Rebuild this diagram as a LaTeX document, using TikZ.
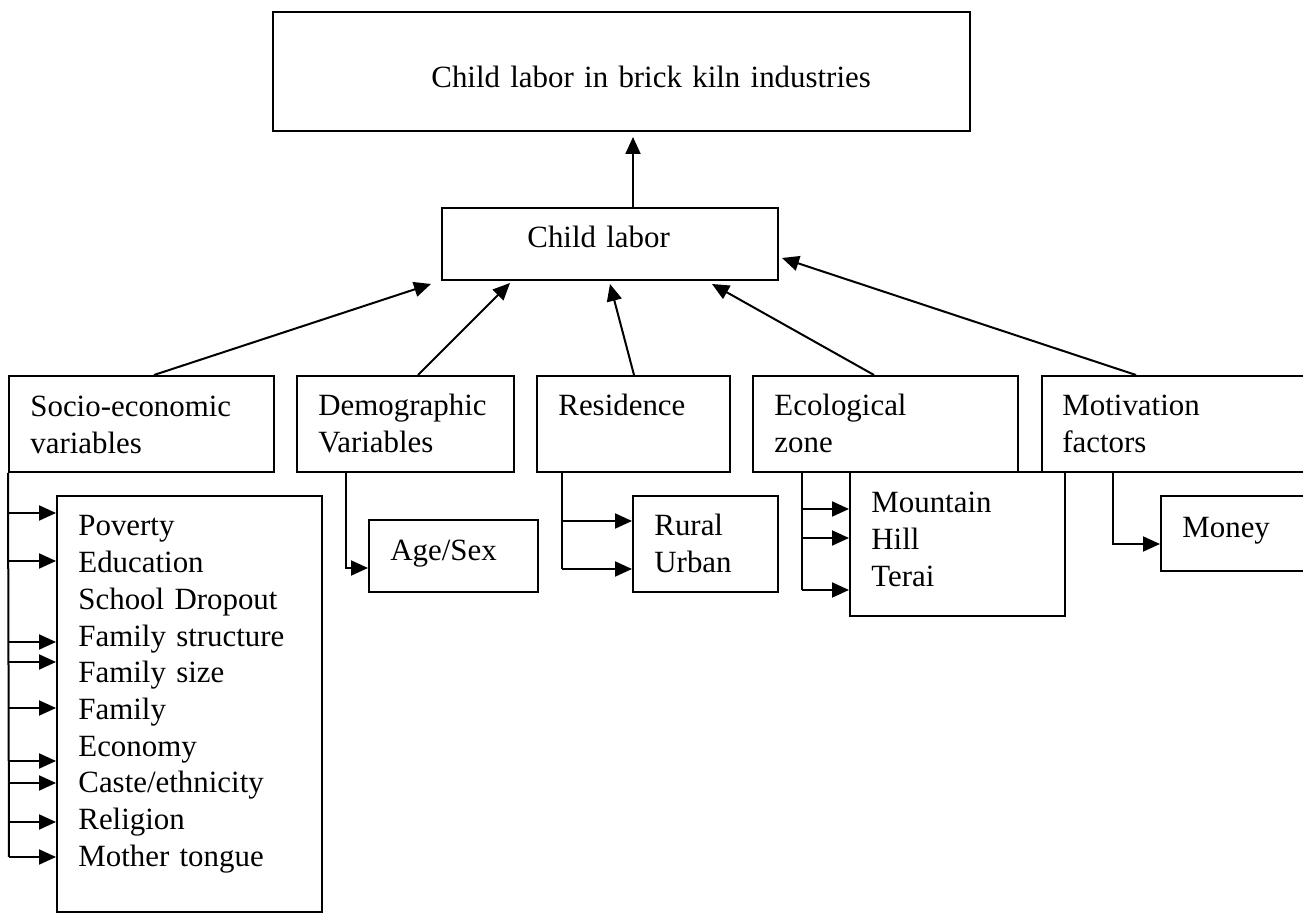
\documentclass[tikz,border=0pt]{standalone}
\usepackage{fontspec}
\setmainfont{Liberation Serif}
\usetikzlibrary{arrows.meta,calc,fit}
\begin{document}
\begin{tikzpicture}[x=0.5pt,y=-0.5pt,
  box/.style={draw, line width=1pt, inner sep=0pt},
  txt/.style={inner sep=0pt, anchor=base west, text width=330pt, align=left,
    font=\fontsize{15.45pt}{18.35pt}\selectfont},
  ln/.style={line width=1pt},
  arr/.style={ln, -{Triangle[length=8.5pt,width=7.5pt]}}]
\useasboundingbox (0,0) rectangle (1303,913);

% boxes
\node[box, fit={(273,12) (970,131)}] (top) {};
\node[box, fit={(442,208) (778,280)}] (cl) {};
\node[box, fit={(9,376) (274,472)}] (soc) {};
\node[box, fit={(297,376) (514,472)}] (dem) {};
\node[box, fit={(537,376) (730,472)}] (res) {};
\node[box, fit={(753,376) (1018,472)}] (eco) {};
\node[box, fit={(1042,376) (1340,472)}] (mot) {};
\node[box, fit={(57,496) (322,912)}] (list) {};
\node[box, fit={(369,520) (538,592)}] (age) {};
\node[box, fit={(633,496) (778,592)}] (ru) {};
\node[box, fit={(850,472) (1065,616)}] (zone) {};
\node[box, fit={(1161,496) (1340,571)}] (money) {};

% texts
\node[txt] (ttop) at (431,88) {Child labor in brick kiln industries};
\node[txt] (tcl) at (527,248) {Child labor};
\node[txt] (tsoc) at (30,417) {Socio-economic\\variables};
\node[txt] (tdem) at (318,416) {Demographic\\Variables};
\node[txt] (tres) at (558,416) {Residence};
\node[txt] (teco) at (774,416) {Ecological\\zone};
\node[txt] (tmot) at (1062,416) {Motivation\\factors};
\node[txt] (tlist) at (78,536) {Poverty\\Education\\School Dropout\\Family structure\\Family size\\Family\\Economy\\Caste/ethnicity\\Religion\\Mother tongue};
\node[txt] (tage) at (390,561) {Age/Sex};
\node[txt] (tru) at (654,536) {Rural\\Urban};
\node[txt] (tzone) at (871,513) {Mountain\\Hill\\Terai};
\node[txt] (tmoney) at (1182,538) {Money};

% upward arrows
\coordinate (ax) at (633,0);
\draw[arr, shorten >=2.5pt] (cl.north -| ax) -- (top.south -| ax);
\draw[arr] ($(soc.north)+(12.5,0)$) -- ($(cl.south west)+(-10,3)$);
\draw[arr] ($(dem.north)+(12.5,0)$) -- ($(cl.south)+(-100,2)$);
\draw[arr] ($(res.north)+(0.5,0)$) -- ($(cl.south)+(0,3)$);
\draw[arr] ($(eco.north)+(-11.5,0)$) -- ($(cl.south)+(102,3)$);
\draw[arr] ($(mot.north west)+(95,0)$) -- ($(cl.east)+(3,14)$);

% socio-economic list
\draw[ln] (soc.south west) -- (9,857);
\foreach \y in {513,561,642,662,708,761,783,822,857} {
  \coordinate (s\y) at (9,\y);
  \draw[arr] (s\y) -- (s\y -| list.west);
}

% demographic
\coordinate (d1) at (346,568);
\draw[arr] (dem.south -| d1) -- (d1) -- (age.west |- d1);

% residence
\coordinate (r1) at (562,521);
\coordinate (r2) at (562,569);
\draw[ln] (res.south -| r1) -- (r2);
\draw[arr] (r1) -- (ru.west |- r1);
\draw[arr] (r2) -- (ru.west |- r2);

% ecological
\coordinate (e1) at (802,509);
\coordinate (e2) at (802,538);
\coordinate (e3) at (802,590);
\draw[ln] (eco.south -| e1) -- (e3);
\draw[arr] (e1) -- (zone.west |- e1);
\draw[arr] (e2) -- (zone.west |- e2);
\draw[arr] (e3) -- (zone.west |- e3);

% motivation
\coordinate (m1) at (1113,544);
\draw[arr] (mot.south -| m1) -- (m1) -- (money.west |- m1);
\end{tikzpicture}
\end{document}
